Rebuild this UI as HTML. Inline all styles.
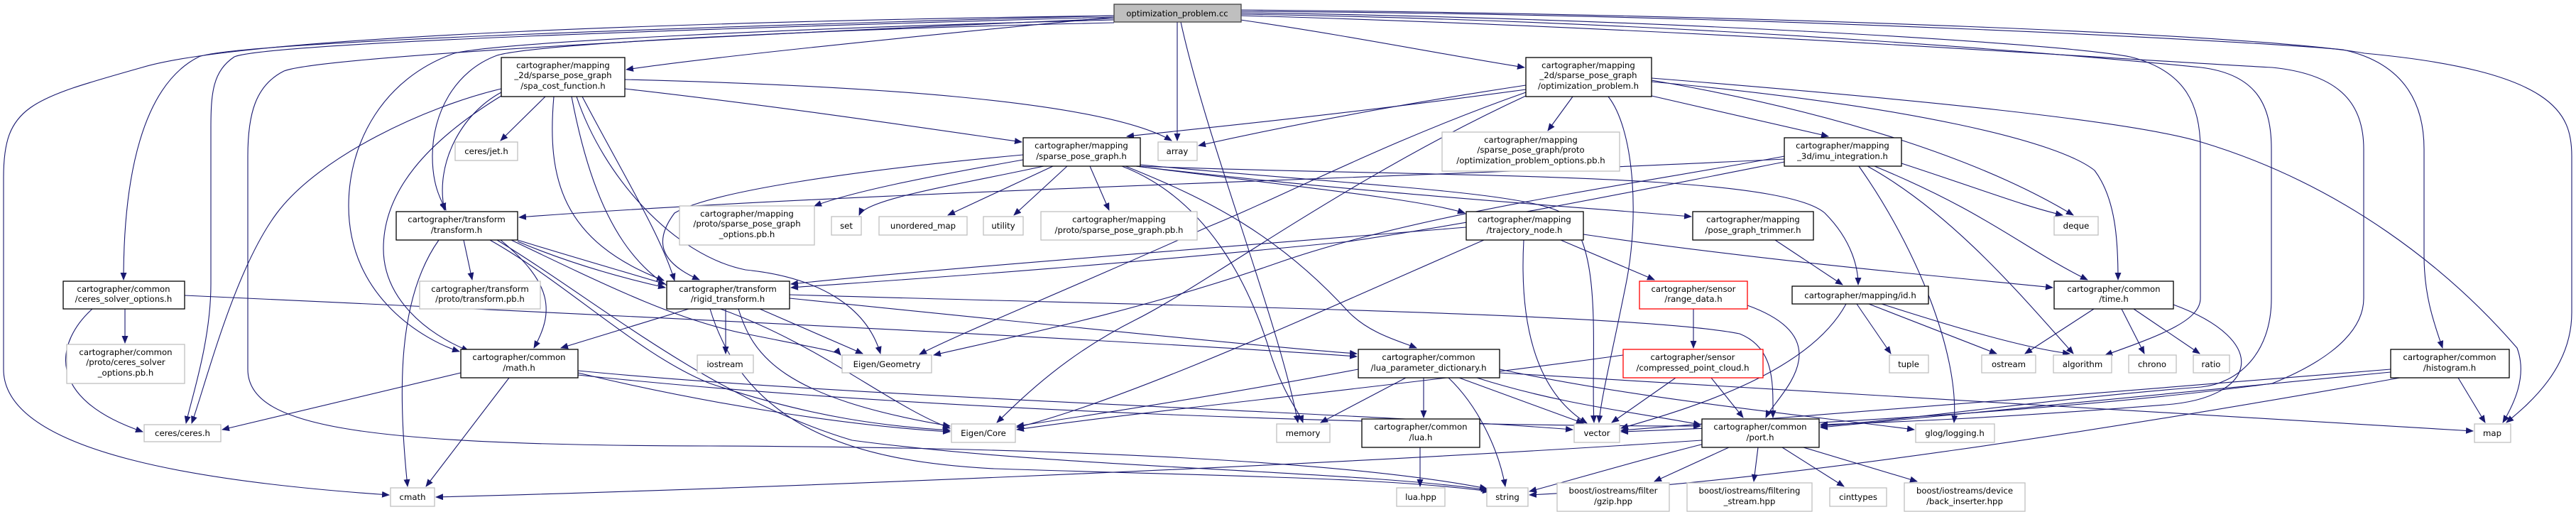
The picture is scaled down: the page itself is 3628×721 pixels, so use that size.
<!DOCTYPE html>
<html><head><meta charset="utf-8"><style>
html,body{margin:0;padding:0;background:#fff;}
svg{display:block;}
text{font-family:"DejaVu Sans","Liberation Sans",sans-serif;font-size:11.7px;fill:#000;text-anchor:middle;}
.e{fill:none;stroke:#191970;stroke-width:1.1;marker-end:url(#a);}
.b{fill:#fff;stroke:#000;stroke-width:1.3;}
.g{fill:#fff;stroke:#bfbfbf;stroke-width:1.3;}
.r{fill:#fff;stroke:#ff0000;stroke-width:1.3;}
</style></head><body>
<svg width="3628" height="721" viewBox="0 0 3628 721" xmlns="http://www.w3.org/2000/svg">
<defs><marker id="a" markerUnits="userSpaceOnUse" markerWidth="11" markerHeight="9" refX="10" refY="4.5" orient="auto"><path d="M0,0 L11,4.5 L0,9 z" fill="#191970"/></marker></defs>
<g>
<path class="e" d="M1569,22 C1000,30 350,50 200,95 C40,140 5,150 5,250 L5,520 C5,640 300,680 548,697"/>
<path class="e" d="M1569,22 C900,40 330,60 280,80 C200,120 174,250 174,394"/>
<path class="e" d="M1569,24 C1000,40 380,60 330,80 C300,100 297,130 297,180 L297,400 C297,480 270,560 262,596"/>
<path class="e" d="M1569,26 C1000,50 450,80 400,100 C360,120 349,160 349,220 L349,520 C349,600 500,627 1000,628 C1500,630 1900,650 2094,688"/>
<path class="e" d="M1569,28 C1100,40 700,60 640,75 C540,110 491,200 491,290 C491,420 600,480 647,495"/>
<path class="e" d="M1569,32 C1200,40 760,60 700,78 C640,100 609,160 609,220 C609,260 620,280 628,296"/>
<path class="e" d="M1569,24 C1300,50 1000,80 882,98"/>
<path class="e" d="M1747,28 C1900,50 2050,80 2147,95"/>
<path class="e" d="M1658,31 L1658,198"/>
<path class="e" d="M1663,31 C1700,200 1800,450 1828,595"/>
<path class="e" d="M1747,18 C2300,25 2900,60 3000,80 C3080,100 3099,150 3099,210 L3099,420 C3099,450 3050,470 2965,500"/>
<path class="e" d="M1747,20 C2400,30 2950,80 3100,95 C3180,105 3199,150 3199,210 L3199,420 C3199,500 3150,540 3100,545 C2900,560 2700,590 2564,600"/>
<path class="e" d="M1747,22 C2400,40 3000,85 3200,95 C3300,105 3329,150 3329,210 L3329,420 C3329,480 3250,520 3200,540 C2900,580 2500,600 2283,608"/>
<path class="e" d="M1747,16 C2500,20 3200,60 3300,70 C3390,90 3414,150 3414,210 L3414,360 C3414,420 3430,460 3440,490"/>
<path class="e" d="M1747,14 C2500,20 3200,50 3330,75 C3600,100 3622,160 3622,220 L3622,440 C3622,520 3560,570 3530,595"/>
<path class="e" d="M2326,110 C2700,140 3000,170 3100,200 C3300,260 3450,380 3545,490 C3560,530 3540,570 3525,595"/>
<path class="e" d="M2326,115 C2700,150 2900,200 2950,240 C2980,280 2983,340 2983,394"/>
<path class="e" d="M2326,113 C2600,160 2800,230 2920,303"/>
<path class="e" d="M2215,136 L2180,184"/>
<path class="e" d="M2326,135 L2575,192"/>
<path class="e" d="M2149,120 C1950,150 1800,180 1688,205"/>
<path class="e" d="M2149,126 C1900,160 1700,180 1587,192"/>
<path class="e" d="M2265,136 C2300,180 2310,300 2290,400 C2270,500 2255,560 2252,595"/>
<path class="e" d="M2149,135 C1900,250 1700,400 1600,450 C1500,500 1440,560 1404,595"/>
<path class="e" d="M2149,130 C1950,200 1800,280 1700,320 C1500,410 1350,470 1295,499"/>
<path class="e" d="M2513,220 C2300,260 2000,300 1800,370 C1600,440 1400,480 1315,500"/>
<path class="e" d="M2513,224 C2000,250 1200,270 731,306"/>
<path class="e" d="M2513,228 C2300,270 2100,310 1900,340 C1500,380 1250,395 1114,405"/>
<path class="e" d="M2630,234 C2750,300 2850,420 2920,498"/>
<path class="e" d="M2640,234 C2800,300 2850,350 2940,394"/>
<path class="e" d="M2678,230 C2800,270 2850,290 2905,303"/>
<path class="e" d="M2618,234 C2700,350 2760,500 2752,595"/>
<path class="e" d="M768,136 L705,198"/>
<path class="e" d="M706,125 C600,150 450,220 390,300 C330,380 290,540 270,596"/>
<path class="e" d="M706,135 C600,200 540,270 540,350 C540,420 600,470 660,494"/>
<path class="e" d="M780,136 C770,250 790,340 935,395"/>
<path class="e" d="M805,136 C840,320 900,400 1000,430 C1150,480 1250,570 1338,603"/>
<path class="e" d="M812,136 C850,250 950,360 1050,380 C1150,390 1220,430 1240,498"/>
<path class="e" d="M880,112 C1200,120 1550,140 1650,198"/>
<path class="e" d="M880,125 C1100,150 1300,180 1439,200"/>
<path class="e" d="M820,136 C880,250 930,330 950,395"/>
<path class="e" d="M706,130 C650,160 612,230 626,296"/>
<path class="e" d="M1441,225 C1300,250 1200,270 1147,290"/>
<path class="e" d="M1470,234 C1350,260 1220,280 1210,303"/>
<path class="e" d="M1483,234 L1335,303"/>
<path class="e" d="M1503,234 L1428,303"/>
<path class="e" d="M1535,234 L1562,296"/>
<path class="e" d="M1441,218 C1200,240 1000,270 950,300 C920,340 930,370 985,394"/>
<path class="e" d="M1600,234 C1800,260 2000,280 2063,300"/>
<path class="e" d="M1600,234 C1900,270 2200,290 2382,305"/>
<path class="e" d="M1606,234 C2000,250 2500,240 2570,300 C2610,340 2617,380 2617,401"/>
<path class="e" d="M1585,234 C1700,280 1800,330 1900,440 C1930,470 1970,480 1995,490"/>
<path class="e" d="M1580,234 C1700,280 1760,400 1790,500 C1810,560 1830,580 1835,595"/>
<path class="e" d="M1606,232 C1900,260 2150,270 2200,300 C2260,340 2240,500 2245,595"/>
<path class="e" d="M653,338 L665,394"/>
<path class="e" d="M729,338 C800,360 870,380 937,400"/>
<path class="e" d="M729,340 C800,370 870,390 937,405"/>
<path class="e" d="M705,338 C780,400 780,440 752,490"/>
<path class="e" d="M618,338 C560,420 560,550 574,685"/>
<path class="e" d="M690,338 C800,400 900,500 1000,540 C1150,590 1250,600 1338,606"/>
<path class="e" d="M720,338 C850,400 950,450 1050,470 C1150,490 1180,495 1184,500"/>
<path class="e" d="M700,338 C850,430 1000,560 1200,620 C1500,660 1900,662 2096,690"/>
<path class="e" d="M1022,435 L1022,498"/>
<path class="e" d="M1070,435 L1215,498"/>
<path class="e" d="M970,435 L790,490"/>
<path class="e" d="M1040,435 C1060,500 1100,560 1338,600"/>
<path class="e" d="M1112,420 C1500,460 1800,490 1911,498"/>
<path class="e" d="M1112,415 C1600,430 2300,440 2450,470 C2500,490 2497,540 2497,588"/>
<path class="e" d="M1000,435 C1050,600 1200,650 1400,660 C1700,670 1950,672 2098,692"/>
<path class="e" d="M176,435 L176,483"/>
<path class="e" d="M130,435 C80,480 60,560 201,608"/>
<path class="e" d="M260,416 C1000,450 1600,480 1911,502"/>
<path class="e" d="M649,525 L313,605"/>
<path class="e" d="M717,532 L600,685"/>
<path class="e" d="M814,525 C1000,570 1200,600 1338,608"/>
<path class="e" d="M814,522 C1200,560 1900,580 2215,605"/>
<path class="e" d="M814,528 C1300,580 2000,600 2395,600"/>
<path class="e" d="M2065,320 C1700,350 1300,380 1114,400"/>
<path class="e" d="M2198,338 L2330,394"/>
<path class="e" d="M2146,338 C2140,450 2160,550 2235,596"/>
<path class="e" d="M2090,338 C1900,420 1600,560 1432,602"/>
<path class="e" d="M2230,330 C2500,370 2800,395 2891,405"/>
<path class="e" d="M2500,338 L2595,401"/>
<path class="e" d="M2385,435 L2385,490"/>
<path class="e" d="M2461,430 C2600,480 2500,560 2487,588"/>
<path class="e" d="M2600,428 C2550,520 2400,570 2283,603"/>
<path class="e" d="M2615,428 L2663,498"/>
<path class="e" d="M2632,428 L2812,498"/>
<path class="e" d="M2650,428 C2750,460 2850,490 2915,498"/>
<path class="e" d="M2949,435 L2852,498"/>
<path class="e" d="M2988,435 L3020,498"/>
<path class="e" d="M3005,435 L3098,498"/>
<path class="e" d="M3061,429 C3200,480 3180,560 3050,570 C2800,590 2650,595 2564,598"/>
<path class="e" d="M2410,532 L2455,588"/>
<path class="e" d="M2360,532 L2270,595"/>
<path class="e" d="M2286,500 C2000,540 1600,580 1432,605"/>
<path class="e" d="M1980,532 L1860,595"/>
<path class="e" d="M2005,532 L2005,588"/>
<path class="e" d="M2055,532 L2230,596"/>
<path class="e" d="M2080,532 C2200,570 2300,580 2395,598"/>
<path class="e" d="M2040,532 C2080,570 2110,630 2120,685"/>
<path class="e" d="M2112,520 C2300,560 2500,580 2696,605"/>
<path class="e" d="M2112,525 C2700,560 3200,590 3483,607"/>
<path class="e" d="M1913,520 C1700,560 1500,590 1432,600"/>
<path class="e" d="M2000,630 L2000,685"/>
<path class="e" d="M2400,625 C2300,650 2200,680 2154,692"/>
<path class="e" d="M2435,630 L2330,678"/>
<path class="e" d="M2476,630 L2470,678"/>
<path class="e" d="M2510,630 L2597,685"/>
<path class="e" d="M2540,630 L2700,678"/>
<path class="e" d="M2397,620 C1800,660 1000,690 614,700"/>
<path class="e" d="M3462,532 L3500,595"/>
<path class="e" d="M3367,524 C3000,560 2700,590 2564,602"/>
<path class="e" d="M3367,520 C3000,550 2500,590 2283,606"/>
<path class="e" d="M3380,532 C3000,600 2500,680 2154,697"/>
</g>
<g>
<rect x="1569" y="6" width="179" height="25" fill="#bfbfbf" stroke="#404040" stroke-width="1.3"/><text x="1658" y="23">optimization_problem.cc</text>
<rect class="b" x="706" y="81" width="174" height="55"/><text x="793" y="96">cartographer/mapping</text><text x="793" y="110">_2d/sparse_pose_graph</text><text x="793" y="125">/spa_cost_function.h</text>
<rect class="b" x="2149" y="81" width="177" height="55"/><text x="2237" y="96">cartographer/mapping</text><text x="2237" y="110">_2d/sparse_pose_graph</text><text x="2237" y="125">/optimization_problem.h</text>
<rect class="g" x="641" y="200" width="88" height="26"/><text x="685" y="217">ceres/jet.h</text>
<rect class="b" x="558" y="298" width="171" height="40"/><text x="643" y="313">cartographer/transform</text><text x="643" y="328">/transform.h</text>
<rect class="g" x="591" y="396" width="170" height="39"/><text x="676" y="411">cartographer/transform</text><text x="676" y="425">/proto/transform.pb.h</text>
<rect class="b" x="89" y="396" width="171" height="39"/><text x="174" y="411">cartographer/common</text><text x="174" y="425">/ceres_solver_options.h</text>
<rect class="g" x="94" y="485" width="166" height="55"/><text x="177" y="500">cartographer/common</text><text x="177" y="514">/proto/ceres_solver</text><text x="177" y="529">_options.pb.h</text>
<rect class="b" x="649" y="492" width="165" height="40"/><text x="731" y="507">cartographer/common</text><text x="731" y="522">/math.h</text>
<rect class="g" x="203" y="598" width="108" height="24"/><text x="257" y="614">ceres/ceres.h</text>
<rect class="g" x="550" y="687" width="62" height="26"/><text x="581" y="704">cmath</text>
<rect class="b" x="939" y="396" width="173" height="39"/><text x="1025" y="411">cartographer/transform</text><text x="1025" y="425">/rigid_transform.h</text>
<rect class="g" x="957" y="290" width="190" height="55"/><text x="1052" y="305">cartographer/mapping</text><text x="1052" y="319">/proto/sparse_pose_graph</text><text x="1052" y="334">_options.pb.h</text>
<rect class="g" x="1171" y="305" width="42" height="26"/><text x="1192" y="322">set</text>
<rect class="g" x="1238" y="305" width="124" height="26"/><text x="1300" y="322">unordered_map</text>
<rect class="g" x="1385" y="305" width="56" height="26"/><text x="1413" y="322">utility</text>
<rect class="g" x="1466" y="298" width="220" height="40"/><text x="1576" y="313">cartographer/mapping</text><text x="1576" y="328">/proto/sparse_pose_graph.pb.h</text>
<rect class="b" x="1441" y="194" width="165" height="40"/><text x="1523" y="209">cartographer/mapping</text><text x="1523" y="224">/sparse_pose_graph.h</text>
<rect class="g" x="1631" y="200" width="55" height="26"/><text x="1658" y="217">array</text>
<rect class="g" x="982" y="500" width="79" height="25"/><text x="1021" y="517">iostream</text>
<rect class="g" x="1186" y="500" width="126" height="25"/><text x="1249" y="517">Eigen/Geometry</text>
<rect class="b" x="1913" y="492" width="199" height="40"/><text x="2012" y="507">cartographer/common</text><text x="2012" y="522">/lua_parameter_dictionary.h</text>
<rect class="g" x="1340" y="597" width="90" height="26"/><text x="1385" y="614">Eigen/Core</text>
<rect class="g" x="1798" y="597" width="75" height="26"/><text x="1835" y="614">memory</text>
<rect class="b" x="1918" y="590" width="166" height="40"/><text x="2001" y="605">cartographer/common</text><text x="2001" y="620">/lua.h</text>
<rect class="g" x="1967" y="687" width="68" height="26"/><text x="2001" y="704">lua.hpp</text>
<rect class="g" x="2031" y="186" width="250" height="55"/><text x="2156" y="201">cartographer/mapping</text><text x="2156" y="215">/sparse_pose_graph/proto</text><text x="2156" y="230">/optimization_problem_options.pb.h</text>
<rect class="b" x="2513" y="194" width="165" height="40"/><text x="2595" y="209">cartographer/mapping</text><text x="2595" y="224">_3d/imu_integration.h</text>
<rect class="b" x="2065" y="298" width="165" height="40"/><text x="2147" y="313">cartographer/mapping</text><text x="2147" y="328">/trajectory_node.h</text>
<rect class="b" x="2384" y="298" width="170" height="40"/><text x="2469" y="313">cartographer/mapping</text><text x="2469" y="328">/pose_graph_trimmer.h</text>
<rect class="g" x="2893" y="305" width="62" height="26"/><text x="2924" y="322">deque</text>
<rect class="r" x="2309" y="396" width="152" height="39"/><text x="2385" y="411">cartographer/sensor</text><text x="2385" y="425">/range_data.h</text>
<rect class="b" x="2524" y="403" width="192" height="25"/><text x="2620" y="420">cartographer/mapping/id.h</text>
<rect class="b" x="2893" y="396" width="168" height="39"/><text x="2977" y="411">cartographer/common</text><text x="2977" y="425">/time.h</text>
<rect class="r" x="2286" y="492" width="197" height="40"/><text x="2384" y="507">cartographer/sensor</text><text x="2384" y="522">/compressed_point_cloud.h</text>
<rect class="g" x="2661" y="500" width="55" height="25"/><text x="2688" y="517">tuple</text>
<rect class="g" x="2791" y="500" width="76" height="25"/><text x="2829" y="517">ostream</text>
<rect class="g" x="2892" y="500" width="82" height="25"/><text x="2933" y="517">algorithm</text>
<rect class="g" x="2998" y="500" width="67" height="25"/><text x="3031" y="517">chrono</text>
<rect class="g" x="3089" y="500" width="51" height="25"/><text x="3114" y="517">ratio</text>
<rect class="b" x="3367" y="492" width="167" height="40"/><text x="3450" y="507">cartographer/common</text><text x="3450" y="522">/histogram.h</text>
<rect class="g" x="3485" y="597" width="51" height="26"/><text x="3510" y="614">map</text>
<rect class="g" x="2217" y="597" width="64" height="26"/><text x="2249" y="614">vector</text>
<rect class="b" x="2397" y="590" width="165" height="40"/><text x="2479" y="605">cartographer/common</text><text x="2479" y="620">/port.h</text>
<rect class="g" x="2698" y="597" width="111" height="26"/><text x="2753" y="614">glog/logging.h</text>
<rect class="g" x="2094" y="687" width="58" height="26"/><text x="2123" y="704">string</text>
<rect class="g" x="2193" y="680" width="158" height="40"/><text x="2272" y="695">boost/iostreams/filter</text><text x="2272" y="710">/gzip.hpp</text>
<rect class="g" x="2376" y="680" width="176" height="40"/><text x="2464" y="695">boost/iostreams/filtering</text><text x="2464" y="710">_stream.hpp</text>
<rect class="g" x="2577" y="687" width="80" height="26"/><text x="2617" y="704">cinttypes</text>
<rect class="g" x="2682" y="680" width="170" height="40"/><text x="2767" y="695">boost/iostreams/device</text><text x="2767" y="710">/back_inserter.hpp</text>
</g>
</svg>
</body></html>
